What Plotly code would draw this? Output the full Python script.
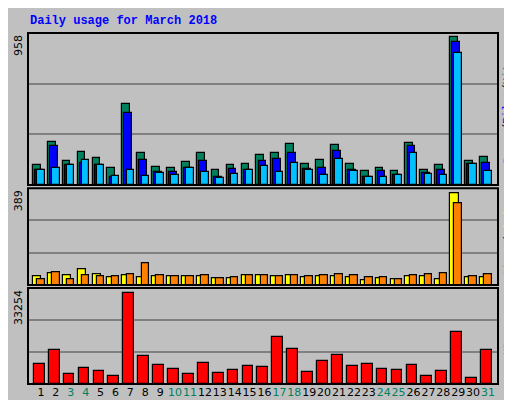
import plotly.graph_objects as go

days = list(range(1, 32))
weekend = [3, 4, 10, 11, 17, 18, 24, 25, 31]

hits = [124, 269, 149, 206, 168, 105, 508, 200, 112, 105, 143, 200, 93, 124, 130, 187,
        200, 256, 130, 156, 250, 130, 86, 105, 86, 263, 93, 124, 930, 149, 175]
files = [96, 244, 124, 137, 124, 52, 452, 156, 80, 80, 105, 149, 48, 99, 93, 149,
         162, 200, 99, 105, 212, 93, 48, 87, 61, 244, 74, 93, 899, 130, 137]
pages = [93, 105, 124, 156, 124, 55, 93, 55, 74, 61, 105, 80, 42, 67, 93, 118,
         80, 137, 93, 61, 162, 87, 48, 48, 61, 200, 67, 61, 830, 130, 87]
visits = [37, 49, 41, 65, 45, 33, 41, 33, 37, 37, 37, 37, 29, 29, 41, 41,
          37, 41, 33, 37, 37, 33, 21, 29, 25, 37, 37, 25, 370, 33, 33]
sites = [25, 53, 25, 41, 37, 37, 45, 86, 41, 37, 37, 41, 29, 33, 41, 41,
         37, 41, 37, 41, 45, 41, 33, 33, 25, 41, 45, 49, 330, 37, 45]
kbytes = [7040, 11890, 3580, 5660, 4620, 2890, 31660, 9810, 6700, 5310, 3580, 7390, 3920, 4960, 6350, 6000,
          16400, 12240, 4270, 8080, 10160, 6350, 7040, 5310, 4960, 6700, 2890, 4620, 18130, 2190, 11890]

max_hits, max_visits, max_kb = 958, 389, 33254

fig = go.Figure()

def add(vals, color, lo, hi, yaxis):
    fig.add_trace(go.Bar(x=days, y=vals, offset=lo, width=hi - lo, marker_color=color,
                         marker_line_color="black", marker_line_width=1.2,
                         yaxis=yaxis, showlegend=False))

add(hits, "#00805C", -0.54, -0.02, "y")
add(files, "#0000FF", -0.40, 0.12, "y")
add(pages, "#00C0FF", -0.25, 0.25, "y")
add(visits, "#FFFF00", -0.54, 0.02, "y2")
add(sites, "#FF8000", -0.25, 0.25, "y2")
add(kbytes, "#FF0000", -0.47, 0.25, "y3")

ticktext = ["<span style='color:#00805C'>%d</span>" % d if d in weekend else str(d) for d in days]

grid = dict(showgrid=True, gridcolor="#808080", gridwidth=1.5, showticklabels=False,
            zeroline=False, ticks="", automargin=False)
fig.update_layout(
    width=512, height=400,
    margin=dict(l=20, r=22, t=25, b=24),
    paper_bgcolor="#C0C0C0", plot_bgcolor="#C0C0C0",
    barmode="overlay", bargap=0,
    font=dict(family="DejaVu Sans", size=12, color="black"),
    xaxis=dict(range=[0.13, 31.67], tickvals=days, ticktext=ticktext, showgrid=False,
               ticks="", tickangle=0, automargin=False, tickfont=dict(size=11), anchor="y3"),
    yaxis=dict(domain=[0.567, 1], range=[0, max_hits], dtick=max_hits / 3, **grid),
    yaxis2=dict(domain=[0.282, 0.558], range=[0, max_visits], dtick=max_visits / 3, **grid),
    yaxis3=dict(domain=[0, 0.2735], range=[0, max_kb], dtick=max_kb / 3, **grid),
)

# panel frames
for ref in ["y", "y2", "y3"]:
    fig.add_shape(type="rect", xref="x domain", yref=ref + " domain", x0=0, x1=1, y0=0, y1=1,
                  line=dict(color="black", width=2))
# outer bevel
fig.add_shape(type="line", xref="paper", yref="paper", x0=1.038, x1=1.038, y0=-0.06, y1=1.07,
              line=dict(color="#808080", width=5))
fig.add_shape(type="line", xref="paper", yref="paper", x0=-0.04, x1=1.04, y0=-0.062, y1=-0.062,
              line=dict(color="#808080", width=5))

fig.add_annotation(text="<b>Daily usage for March 2018</b>", xref="paper", yref="paper",
                   x=0, y=1.008, xanchor="left", yanchor="bottom", showarrow=False,
                   font=dict(family="Liberation Mono", size=12, color="#0000FF"))

for top, val in [(1, max_hits), (0.558, max_visits), (0.2735, max_kb)]:
    fig.add_annotation(text=str(val), xref="paper", yref="paper", x=-0.002, y=top,
                       xanchor="right", yanchor="top", textangle=-90, showarrow=False,
                       font=dict(size=11))

sep = "<span style='color:black'>/</span>"
labels = [
    (0.78, "<span style='color:#00C0FF'>Pages</span>" + sep + "<span style='color:#0000FF'>Files</span>"
     + sep + "<span style='color:#00805C'>Hits</span>"),
    (0.42, "<span style='color:#FF8000'>Sites</span>" + sep + "<span style='color:#FFFF00'>Visits</span>"),
    (0.14, "<span style='color:#FF0000'>KBytes</span>"),
]
for yy, txt in labels:
    fig.add_annotation(text=txt, xref="paper", yref="paper", x=1.003, y=yy, xanchor="left",
                       yanchor="middle", textangle=-90, showarrow=False,
                       font=dict(family="Liberation Mono", size=11))

fig.write_html("out.html")
